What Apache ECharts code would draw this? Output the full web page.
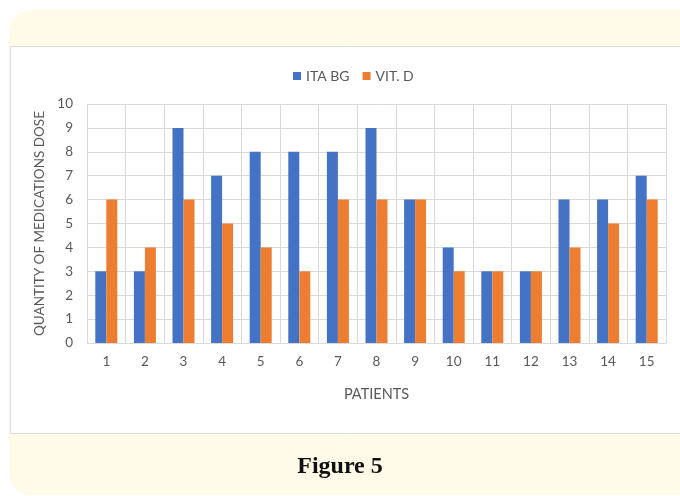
<!DOCTYPE html>
<html>
<head>
<meta charset="utf-8">
<script src="https://cdn.jsdelivr.net/npm/echarts@6/dist/echarts.min.js"></script>
<style>
  html, body { margin: 0; padding: 0; background: #fff; }
  #chart { width: 680px; height: 496px; }
</style>
</head>
<body>
<div id="chart"></div>
<script>
const patients = ['1', '2', '3', '4', '5', '6', '7', '8', '9', '10', '11', '12', '13', '14', '15']
const itaBg = [3, 3, 9, 7, 8, 8, 8, 9, 6, 4, 3, 3, 6, 6, 7]
const vitD = [6, 4, 6, 5, 4, 3, 6, 6, 6, 3, 3, 3, 4, 5, 6]

const textColor = '#595959'
const gridColor = '#d9d9d9'
const font = 'Lato'

const chart = echarts.init(document.getElementById('chart'))
const option = {
  backgroundColor: '#ffffff',
  animation: false,
  graphic: [
    {
      type: 'rect',
      z: -10,
      shape: { x: 9, y: 10, width: 690, height: 485, r: 22 },
      style: { fill: '#fffbe8' }
    },
    {
      type: 'rect',
      z: -9,
      shape: { x: 10.5, y: 46.5, width: 680, height: 387 },
      style: { fill: '#ffffff', stroke: '#dcdcdc', lineWidth: 1 }
    }
  ],
  title: {
    text: 'Figure 5',
    left: 'center',
    top: 450,
    textStyle: {
      fontFamily: 'Liberation Serif',
      fontWeight: 'bold',
      fontSize: 24,
      color: '#111'
    }
  },
  legend: {
    data: ['ITA BG', 'VIT. D'],
    left: 288,
    top: 64,
    icon: 'rect',
    itemWidth: 8,
    itemHeight: 8,
    itemGap: 13,
    textStyle: { color: textColor, fontSize: 14, fontFamily: font }
  },
  grid: { left: 87, right: 14, top: 104, bottom: 153 },
  xAxis: {
    type: 'category',
    data: patients,
    name: 'PATIENTS',
    nameLocation: 'middle',
    nameGap: 44,
    nameTextStyle: { color: textColor, fontSize: 14.5, fontFamily: font },
    axisLine: { lineStyle: { color: gridColor } },
    axisTick: { show: false },
    axisLabel: { color: textColor, fontSize: 13.5, margin: 12, fontFamily: font },
    splitLine: { show: true, lineStyle: { color: gridColor } }
  },
  yAxis: {
    type: 'value',
    min: 0,
    max: 10,
    interval: 1,
    name: 'QUANTITY OF MEDICATIONS DOSE',
    nameLocation: 'middle',
    nameGap: 39,
    nameTextStyle: { color: textColor, fontSize: 13.5, fontFamily: font },
    axisLine: { show: false },
    axisTick: { show: false },
    axisLabel: { color: textColor, fontSize: 13.5, margin: 14, fontFamily: font },
    splitLine: { lineStyle: { color: gridColor } }
  },
  series: [
    {
      name: 'ITA BG',
      type: 'bar',
      data: itaBg,
      barWidth: 11,
      barGap: 0,
      itemStyle: { color: '#4472c4' }
    },
    {
      name: 'VIT. D',
      type: 'bar',
      data: vitD,
      barWidth: 11,
      itemStyle: { color: '#ed7d31' }
    }
  ]
}
chart.setOption(option)
</script>
</body>
</html>
